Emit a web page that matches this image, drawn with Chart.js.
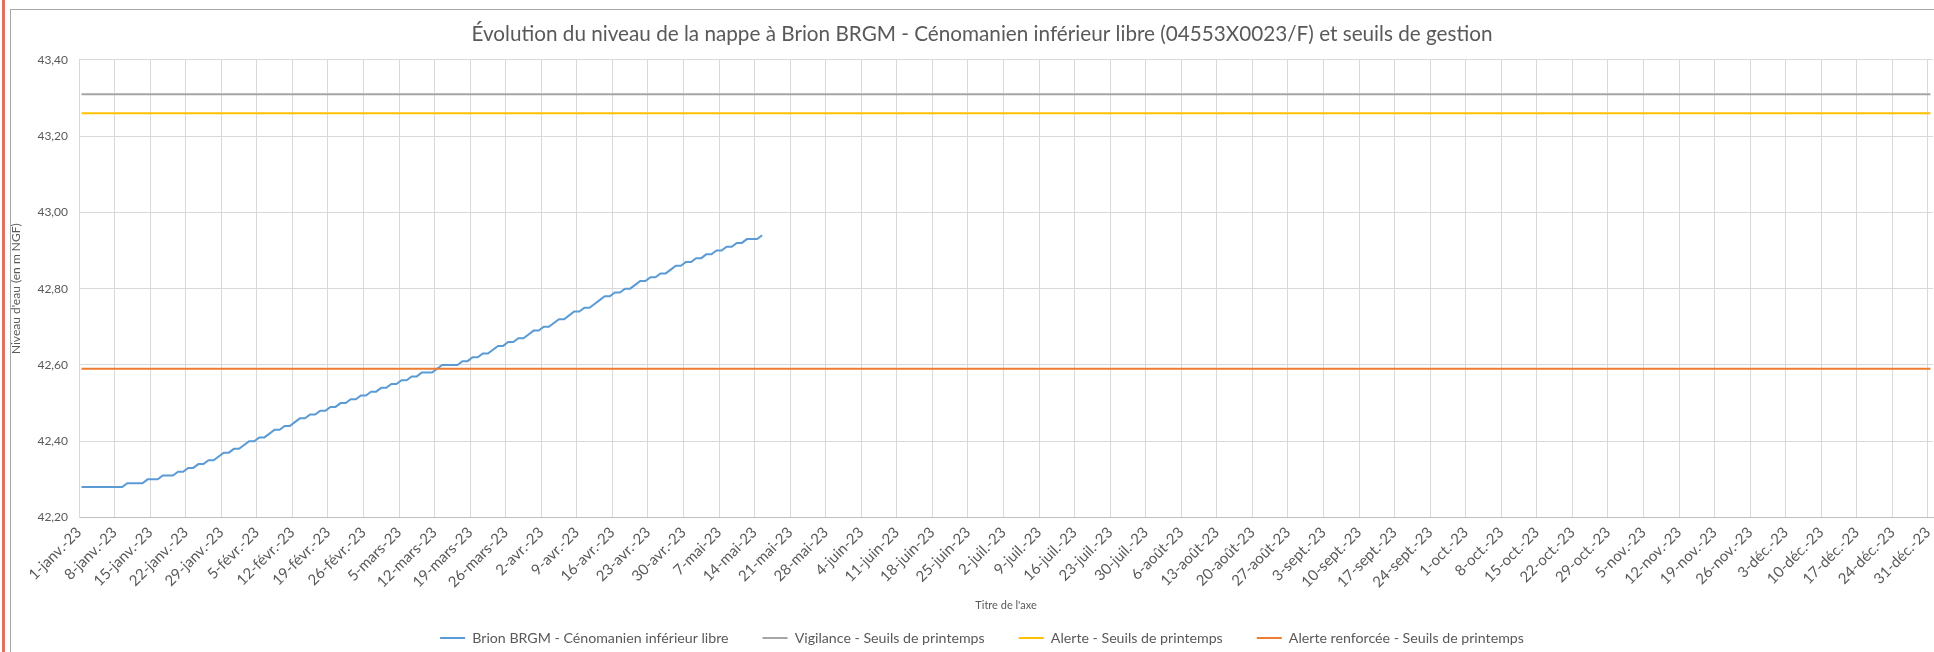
<!DOCTYPE html>
<html lang="fr">
<head>
<meta charset="utf-8">
<title>Niveau de la nappe - Brion BRGM</title>
<script src="https://cdn.jsdelivr.net/npm/chart.js@4.4.0/dist/chart.umd.min.js"></script>
<style>
  html, body { margin: 0; padding: 0; background: #fff; width: 1934px; height: 652px; overflow: hidden; }
  #sel { position: absolute; left: 2px; top: 0; width: 3px; height: 652px; background: #E46F5C; }
  #frame { position: absolute; left: 10px; top: 9px; width: 1960px; height: 700px;
           border-left: 1px solid #A6A6A6; border-top: 1px solid #A6A6A6; box-sizing: border-box; }
  #wrap { position: absolute; left: 11px; top: 10px; width: 1940px; height: 650px; }
</style>
</head>
<body>
<div id="sel"></div>
<div id="frame"></div>
<div id="wrap"><canvas id="chart" width="1940" height="650"></canvas></div>
<script>
// Weekly tick labels (1 janv. -> 31 déc. 2023)
const tickLabels = [
  '1-janv.-23', '8-janv.-23', '15-janv.-23', '22-janv.-23', '29-janv.-23',
  '5-févr.-23', '12-févr.-23', '19-févr.-23', '26-févr.-23',
  '5-mars-23', '12-mars-23', '19-mars-23', '26-mars-23',
  '2-avr.-23', '9-avr.-23', '16-avr.-23', '23-avr.-23', '30-avr.-23',
  '7-mai-23', '14-mai-23', '21-mai-23', '28-mai-23',
  '4-juin-23', '11-juin-23', '18-juin-23', '25-juin-23',
  '2-juil.-23', '9-juil.-23', '16-juil.-23', '23-juil.-23', '30-juil.-23',
  '6-août-23', '13-août-23', '20-août-23', '27-août-23',
  '3-sept.-23', '10-sept.-23', '17-sept.-23', '24-sept.-23',
  '1-oct.-23', '8-oct.-23', '15-oct.-23', '22-oct.-23', '29-oct.-23',
  '5-nov.-23', '12-nov.-23', '19-nov.-23', '26-nov.-23',
  '3-déc.-23', '10-déc.-23', '17-déc.-23', '24-déc.-23', '31-déc.-23'
];

// Daily groundwater level (m NGF), from 1 janv. 2023 onwards
const brionLevels = [
  42.28, 42.28, 42.28, 42.28, 42.28, 42.28, 42.28, 42.28, 42.28, 42.29,
  42.29, 42.29, 42.29, 42.30, 42.30, 42.30, 42.31, 42.31, 42.31, 42.32,
  42.32, 42.33, 42.33, 42.34, 42.34, 42.35, 42.35, 42.36, 42.37, 42.37,
  42.38, 42.38, 42.39, 42.40, 42.40, 42.41, 42.41, 42.42, 42.43, 42.43,
  42.44, 42.44, 42.45, 42.46, 42.46, 42.47, 42.47, 42.48, 42.48, 42.49,
  42.49, 42.50, 42.50, 42.51, 42.51, 42.52, 42.52, 42.53, 42.53, 42.54,
  42.54, 42.55, 42.55, 42.56, 42.56, 42.57, 42.57, 42.58, 42.58, 42.58,
  42.59, 42.60, 42.60, 42.60, 42.60, 42.61, 42.61, 42.62, 42.62, 42.63,
  42.63, 42.64, 42.65, 42.65, 42.66, 42.66, 42.67, 42.67, 42.68, 42.69,
  42.69, 42.70, 42.70, 42.71, 42.72, 42.72, 42.73, 42.74, 42.74, 42.75,
  42.75, 42.76, 42.77, 42.78, 42.78, 42.79, 42.79, 42.80, 42.80, 42.81,
  42.82, 42.82, 42.83, 42.83, 42.84, 42.84, 42.85, 42.86, 42.86, 42.87,
  42.87, 42.88, 42.88, 42.89, 42.89, 42.90, 42.90, 42.91, 42.91, 42.92,
  42.92, 42.93, 42.93, 42.93, 42.94
];

// Spring management thresholds (m NGF)
const seuilVigilance = 43.31;
const seuilAlerte = 43.26;
const seuilAlerteRenforcee = 42.59;

// Y axis range and step
const yMin = 42.20, yMax = 43.40, yStep = 0.20;

const DAYS_IN_YEAR = 365;
const lastDay = DAYS_IN_YEAR - 1;

const brionPoints = brionLevels.map((v, i) => ({ x: i, y: v }));
const flatLine = (v) => [{ x: 0, y: v }, { x: lastDay, y: v }];

// Week boundaries: each day occupies [d - 0.5, d + 0.5]
const weekTicks = tickLabels.map((_, k) => k * 7 - 0.5);

const textColor = '#595959';
const gridColor = '#D9D9D9';
const FONT = 'Lato, "Open Sans", sans-serif';

const ds = (label, data, color, order) => ({
  label, data, borderColor: color, backgroundColor: color,
  borderWidth: 2, pointRadius: 0, pointHoverRadius: 0, tension: 0, fill: false, order
});

new Chart(document.getElementById('chart'), {
  type: 'line',
  data: {
    datasets: [
      ds('Brion BRGM - Cénomanien inférieur libre', brionPoints, '#5B9BD5', 4),
      ds('Vigilance - Seuils de printemps', flatLine(seuilVigilance), '#A5A5A5', 3),
      ds('Alerte - Seuils de printemps', flatLine(seuilAlerte), '#FFC000', 2),
      ds('Alerte renforcée - Seuils de printemps', flatLine(seuilAlerteRenforcee), '#ED7D31', 1)
    ]
  },
  options: {
    responsive: false,
    animation: false,
    devicePixelRatio: 1,
    layout: { padding: { left: 20, right: 18, top: 0, bottom: 4.8 } },
    plugins: {
      tooltip: { enabled: false },
      title: {
        display: true,
        text: 'Évolution du niveau de la nappe à Brion BRGM - Cénomanien inférieur libre (04553X0023/F) et seuils de gestion',
        color: textColor,
        font: { family: FONT, size: 20.7, weight: 'normal' },
        padding: { top: 12, bottom: 13 }
      },
      legend: {
        position: 'bottom',
        labels: {
          color: textColor,
          font: { family: FONT, size: 14.2 },
          usePointStyle: true,
          pointStyle: 'line',
          pointStyleWidth: 25,
          padding: 34,
          sort: (a, b) => a.datasetIndex - b.datasetIndex
        }
      }
    },
    scales: {
      x: {
        type: 'linear',
        min: -0.5,
        max: DAYS_IN_YEAR - 0.5,
        afterBuildTicks: (scale) => { scale.ticks = weekTicks.map(v => ({ value: v })); },
        afterFit: (scale) => { scale.height = 79.5; },
        ticks: {
          autoSkip: false,
          minRotation: 45,
          maxRotation: 45,
          padding: 6,
          color: textColor,
          font: { family: FONT, size: 15 },
          callback: (value, index) => tickLabels[index]
        },
        grid: { color: gridColor, lineWidth: 1, drawTicks: false },
        border: { color: '#BFBFBF', width: 1 },
        title: {
          display: true,
          text: "Titre de l'axe",
          color: textColor,
          font: { family: FONT, size: 11 },
          padding: { top: 0, bottom: -14.6 }
        }
      },
      y: {
        min: yMin,
        max: yMax,
        afterFit: (scale) => { scale.width = 48; },
        ticks: {
          stepSize: yStep,
          padding: 11,
          color: textColor,
          font: { family: FONT, size: 12 },
          callback: (v) => v.toFixed(2).replace('.', ',')
        },
        grid: { color: gridColor, lineWidth: 1, drawTicks: false },
        border: { color: gridColor, width: 1 },
        title: {
          display: true,
          text: "Niveau d'eau (en m NGF)",
          color: textColor,
          font: { family: FONT, size: 12 },
          padding: { top: -22, bottom: 0 }
        }
      }
    }
  }
});
</script>
</body>
</html>
